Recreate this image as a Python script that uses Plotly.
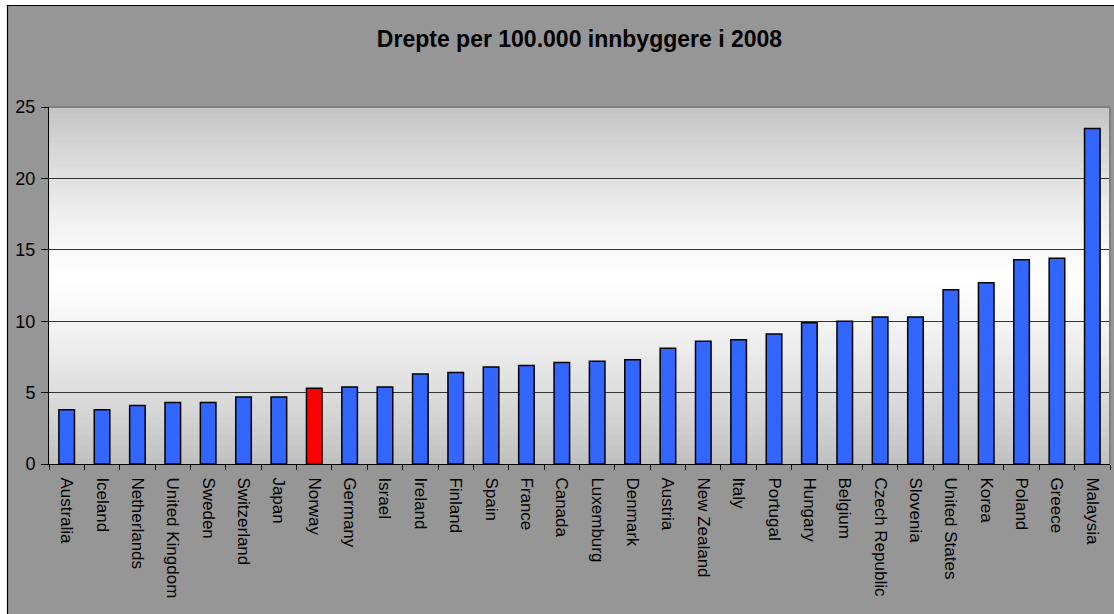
import plotly.graph_objects as go

countries = ["Australia", "Iceland", "Netherlands", "United Kingdom", "Sweden", "Switzerland",
             "Japan", "Norway", "Germany", "Israel", "Ireland", "Finland", "Spain", "France",
             "Canada", "Luxemburg", "Denmark", "Austria", "New Zealand", "Italy", "Portugal",
             "Hungary", "Belgium", "Czech Republic", "Slovenia", "United States", "Korea",
             "Poland", "Greece", "Malaysia"]
values = [3.8, 3.8, 4.1, 4.3, 4.3, 4.7, 4.7, 5.3, 5.4, 5.4, 6.3, 6.4, 6.8, 6.9, 7.1, 7.2, 7.3,
          8.1, 8.6, 8.7, 9.1, 9.9, 10.0, 10.3, 10.3, 12.2, 12.7, 14.3, 14.4, 23.5]
highlight = "Norway"
y_ticks = [0, 5, 10, 15, 20, 25]
title_text = "Drepte per 100.000 innbyggere i 2008"

W, H = 1114, 614
L, R, T, B = 49, 4, 107, 150
pw, ph = W - L - R, H - T - B

colors = ["#FF0000" if c == highlight else "#3366FF" for c in countries]

fig = go.Figure()
fig.add_trace(go.Bar(
    x=countries, y=values,
    marker=dict(color=colors, line=dict(color="#000000", width=1.5)),
    showlegend=False, hoverinfo="x+y",
))

shapes = []
# outer grey chart box
shapes.append(dict(type="rect", xref="paper", yref="paper",
                   x0=(7.5 - L) / pw, x1=1 + 20 / pw,
                   y0=-(B + 30) / ph, y1=(ph + T - 5.5) / ph,
                   fillcolor="#969696", line=dict(color="#000000", width=1.2),
                   layer="below"))
# vertical gradient background of plot area (overlapping strips to avoid seams)
n = 60
ymax = 25.0
for i in range(n):
    y0 = ymax * i / n
    y1 = ymax * (i + 1) / n
    ym = (y0 + y1) / 2
    if ym >= 13:
        d = (ym - 13) / 12.0
        lo = 196
    else:
        d = (13 - ym) / 13.0
        lo = 192
    v = int(round(255 - (255 - lo) * (d ** 1.25)))
    shapes.append(dict(type="rect", xref="x domain", yref="y", x0=0, x1=1,
                       y0=y0, y1=min(y1 + 0.3, ymax),
                       fillcolor=f"rgb({v},{v},{v})", line=dict(width=0), layer="below"))
# plot area border (top and right, grey)
shapes.append(dict(type="line", xref="x domain", yref="y domain", x0=0, x1=1, y0=1, y1=1,
                   line=dict(color="#808080", width=2), layer="above"))
shapes.append(dict(type="line", xref="x domain", yref="y domain", x0=1, x1=1, y0=0, y1=1,
                   line=dict(color="#808080", width=2), layer="above"))

fig.update_layout(
    width=W, height=H,
    margin=dict(l=L, r=R, t=T, b=B, pad=0),
    paper_bgcolor="#FFFFFF",
    plot_bgcolor="rgba(0,0,0,0)",
    bargap=0.56,
    shapes=shapes,
    title=dict(text="<b>" + title_text + "</b>", x=0.5, xref="paper", xanchor="center",
               y=1 - 39 / H, yref="container", yanchor="middle",
               font=dict(family="Liberation Sans, Arial, sans-serif", size=23, color="#000000")),
    font=dict(family="Liberation Sans, Arial, sans-serif", color="#000000"),
    xaxis=dict(type="category", range=[-0.5, len(countries) - 0.5],
               showline=True, linecolor="#000000", linewidth=1,
               ticks="outside", ticklen=5, tickcolor="#000000", tickwidth=1,
               tickson="boundaries", tickangle=90, ticklabelstandoff=9,
               tickfont=dict(size=17, color="#000000"),
               showgrid=False, zeroline=False, fixedrange=True),
    yaxis=dict(range=[0, 25], tickvals=y_ticks, ticktext=[str(t) for t in y_ticks],
               showline=True, linecolor="#000000", linewidth=1,
               ticks="outside", ticklen=7, tickcolor="#000000", tickwidth=1,
               ticklabelstandoff=2,
               tickfont=dict(size=18, color="#000000"),
               showgrid=True, gridcolor="#333333", gridwidth=1,
               zeroline=False, fixedrange=True),
)

fig.write_html("out.html")
